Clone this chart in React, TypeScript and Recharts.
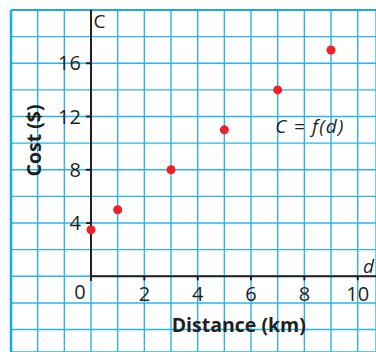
import React from 'react'
import {
  ScatterChart,
  Scatter,
  XAxis,
  YAxis,
  ZAxis,
  CartesianGrid,
  ReferenceLine,
  ReferenceDot,
} from 'recharts'

const distance = [0, 1, 3, 5, 7, 9]
const cost = [3.5, 5, 8, 11, 14, 17]

const xTicks = [2, 4, 6, 8, 10]
const yTicks = [4, 8, 12, 16]
const gridX = [-3, -2, -1, 0, 1, 2, 3, 4, 5, 6, 7, 8, 9, 10]
const gridY = [-4, -2, 0, 2, 4, 6, 8, 10, 12, 14, 16, 18, 20]

const points = distance.map((d, i) => ({ d, c: cost[i] }))

const INK = '#231f20'
const GRID = '#2bb4e8'
const FONT = '"Open Sans", sans-serif'

const X_MIN = -3
const X_MAX = 10.686
const Y_MIN = -5.685
const Y_MAX = 20

const tickText = { fontSize: 20, fill: INK, fontFamily: FONT }
const titleText = { fontSize: 19.5, fontWeight: 700, fill: INK, fontFamily: FONT }
const noteText = { fontSize: 19, fill: INK, fontFamily: FONT }

export default function App() {
  return (
    <div style={{ position: 'absolute', left: 0, top: 0, background: '#fff' }}>
      <ScatterChart
        width={376}
        height={352}
        margin={{ top: 10, right: 0, bottom: 0, left: 11 }}
      >
        <XAxis
          dataKey="d"
          type="number"
          domain={[X_MIN, X_MAX]}
          ticks={gridX}
          allowDataOverflow
          hide
        />
        <YAxis
          dataKey="c"
          type="number"
          domain={[Y_MIN, Y_MAX]}
          ticks={gridY}
          allowDataOverflow
          hide
        />
        <ZAxis range={[52, 52]} />
        <CartesianGrid stroke={GRID} strokeWidth={1.4} />
        <ReferenceLine x={X_MIN} stroke="#1aa9e2" strokeWidth={2.5} />
        <ReferenceLine y={Y_MAX} stroke="#1aa9e2" strokeWidth={2} />

        {/* axes */}
        <ReferenceLine
          segment={[{ x: 0, y: 0 }, { x: X_MAX, y: 0 }]}
          stroke={INK}
          strokeWidth={2}
        />
        <ReferenceLine
          segment={[{ x: 0, y: -0.35 }, { x: 0, y: Y_MAX }]}
          stroke={INK}
          strokeWidth={2}
        />
        {xTicks.map((t) => (
          <ReferenceLine
            key={'xt' + t}
            segment={[{ x: t, y: 0 }, { x: t, y: -0.3 }]}
            stroke={INK}
            strokeWidth={2}
            label={{ value: String(t), position: 'bottom', offset: 7, ...tickText }}
          />
        ))}
        {yTicks.map((t) => (
          <ReferenceLine
            key={'yt' + t}
            segment={[{ x: -0.19, y: t }, { x: 0, y: t }]}
            stroke={INK}
            strokeWidth={2}
            label={{ value: String(t), position: 'left', offset: 5, ...tickText }}
          />
        ))}
        <ReferenceDot
          x={-0.41}
          y={0}
          r={0}
          fill="none"
          stroke="none"
          label={{ value: '0', position: 'bottom', offset: 8, ...tickText }}
        />

        {/* axis titles and annotations */}
        <ReferenceDot
          x={5.54}
          y={-3.66}
          r={0}
          fill="none"
          stroke="none"
          label={{ value: 'Distance (km)', position: 'center', ...titleText }}
        />
        <ReferenceDot
          x={-2.14}
          y={10.2}
          r={0}
          fill="none"
          stroke="none"
          label={{ value: 'Cost ($)', position: 'center', angle: -90, ...titleText }}
        />
        <ReferenceDot
          x={0.32}
          y={19.14}
          r={0}
          fill="none"
          stroke="none"
          label={{ value: 'C', position: 'center', ...noteText }}
        />
        <ReferenceDot
          x={10.4}
          y={0.76}
          r={0}
          fill="none"
          stroke="none"
          label={{ value: 'd', position: 'center', fontStyle: 'italic', ...noteText }}
        />
        <ReferenceDot
          x={8.21}
          y={11.24}
          r={0}
          fill="none"
          stroke="none"
          label={{
            value: 'C = f(d)',
            position: 'center',
            fontStyle: 'italic',
            letterSpacing: 1.2,
            ...noteText,
          }}
        />

        <Scatter data={points} fill="#ee2127" isAnimationActive={false} />
      </ScatterChart>
    </div>
  )
}
